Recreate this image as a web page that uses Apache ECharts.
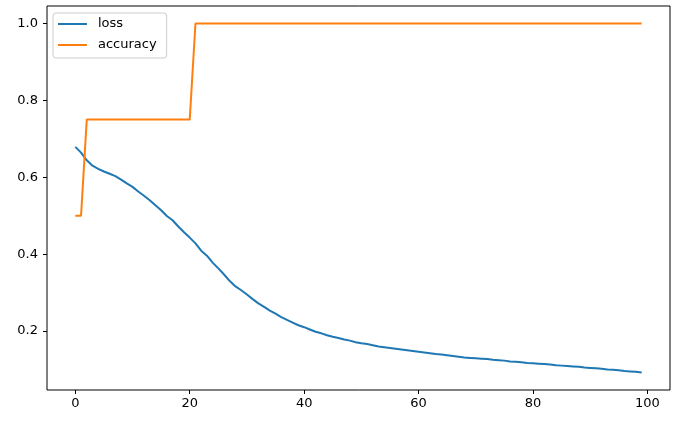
<!DOCTYPE html>
<html>
<head>
<meta charset="utf-8">
<script src="https://cdn.jsdelivr.net/npm/echarts@6/dist/echarts.min.js"></script>
<style>html,body{margin:0;padding:0;background:#fff;}#c{width:683px;height:433px;}</style>
</head>
<body>
<div id="c"></div>
<script>
const epochs = Array.from({length: 100}, (_, i) => i);
const loss = [
0.679,0.664,0.644,0.630,0.622,0.615,0.609,0.603,0.594,0.584,
0.575,0.563,0.552,0.540,0.527,0.514,0.499,0.488,0.472,0.457,
0.443,0.428,0.409,0.396,0.378,0.363,0.347,0.330,0.316,0.306,
0.295,0.283,0.272,0.263,0.253,0.245,0.236,0.229,0.222,0.215,
0.210,0.204,0.198,0.194,0.189,0.185,0.182,0.178,0.175,0.171,
0.168,0.166,0.163,0.160,0.158,0.156,0.154,0.152,0.150,0.148,
0.146,0.144,0.142,0.140,0.139,0.137,0.135,0.133,0.131,0.130,
0.129,0.128,0.127,0.125,0.124,0.123,0.121,0.120,0.119,0.117,
0.116,0.115,0.114,0.113,0.111,0.110,0.109,0.108,0.107,0.105,
0.104,0.103,0.102,0.100,0.099,0.098,0.096,0.095,0.094,0.092
];
const accuracy = [
0.5,0.5,0.75,0.75,0.75,0.75,0.75,0.75,0.75,0.75,
0.75,0.75,0.75,0.75,0.75,0.75,0.75,0.75,0.75,0.75,
0.75,1,1,1,1,1,1,1,1,1,
1,1,1,1,1,1,1,1,1,1,
1,1,1,1,1,1,1,1,1,1,
1,1,1,1,1,1,1,1,1,1,
1,1,1,1,1,1,1,1,1,1,
1,1,1,1,1,1,1,1,1,1,
1,1,1,1,1,1,1,1,1,1,
1,1,1,1,1,1,1,1,1,1
];
const xTicks = [0, 20, 40, 60, 80, 100];
const yTicks = [0.2, 0.4, 0.6, 0.8, 1.0];

const font = 'DejaVu Sans';
const chart = echarts.init(document.getElementById('c'), null, {renderer: 'canvas'});
chart.setOption({
  animation: false,
  backgroundColor: '#fff',
  grid: {left: 47, right: 13, top: 6, bottom: 43, show: true, borderColor: '#000', borderWidth: 1, backgroundColor: 'transparent'},
  legend: {
    orient: 'vertical', left: 53, top: 13,
    icon: 'rect', itemWidth: 29, itemHeight: 2, itemGap: 7,
    padding: [4, 10, 6, 5],
    borderColor: '#cccccc', borderWidth: 1, borderRadius: 3,
    backgroundColor: 'rgba(255,255,255,0.8)',
    textStyle: {fontFamily: font, fontSize: 13, color: '#000', lineHeight: 14, padding: [0, 0, 0, 6]},
    data: ['loss', 'accuracy']
  },
  xAxis: {
    type: 'value', min: -4.95, max: 103.95,
    axisLine: {show: false, onZero: false},
    splitLine: {show: false},
    axisTick: {show: true, length: 4, lineStyle: {color: '#000'}, customValues: xTicks},
    axisLabel: {color: '#000', fontFamily: font, fontSize: 13, margin: 7, customValues: xTicks}
  },
  yAxis: {
    type: 'value', min: 0.0466, max: 1.0454,
    axisLine: {show: false, onZero: false},
    splitLine: {show: false},
    axisTick: {show: true, length: 4, lineStyle: {color: '#000'}, customValues: yTicks},
    axisLabel: {color: '#000', fontFamily: font, fontSize: 13, margin: 9, customValues: yTicks,
      formatter: v => v.toFixed(1)}
  },
  series: [
    {name: 'loss', type: 'line', data: epochs.map((e, i) => [e, loss[i]]), showSymbol: false, symbol: 'none',
     lineStyle: {color: '#1f77b4', width: 2}, itemStyle: {color: '#1f77b4'}},
    {name: 'accuracy', type: 'line', data: epochs.map((e, i) => [e, accuracy[i]]), showSymbol: false, symbol: 'none',
     lineStyle: {color: '#ff7f0e', width: 2}, itemStyle: {color: '#ff7f0e'}}
  ]
});
</script>
</body>
</html>
